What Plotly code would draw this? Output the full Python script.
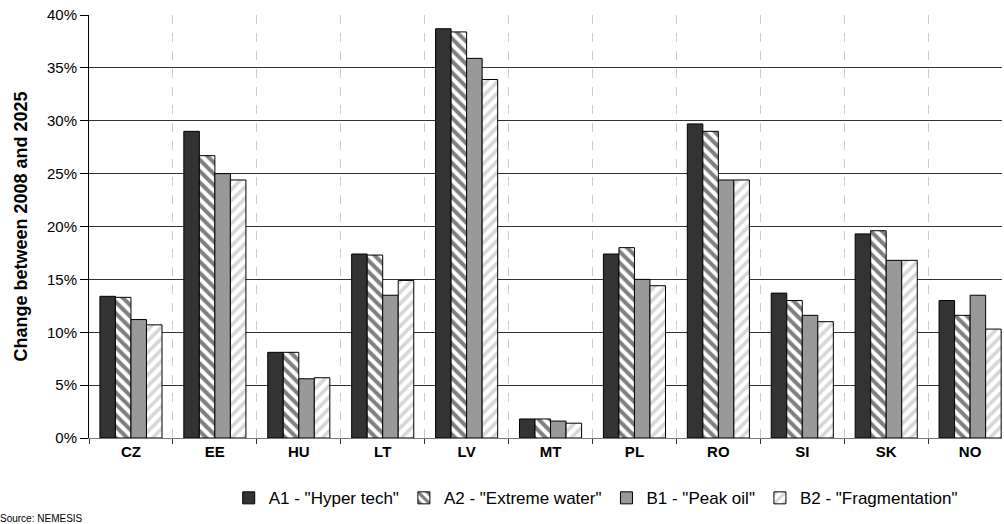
import plotly.graph_objects as go

categories = ["CZ", "EE", "HU", "LT", "LV", "MT", "PL", "RO", "SI", "SK", "NO"]
series_names = ['A1 - "Hyper tech"', 'A2 - "Extreme water"', 'B1 - "Peak oil"', 'B2 - "Fragmentation"']
a1 = [13.4, 29.0, 8.1, 17.4, 38.7, 1.8, 17.4, 29.7, 13.7, 19.3, 13.0]
a2 = [13.3, 26.7, 8.1, 17.3, 38.4, 1.8, 18.0, 29.0, 13.0, 19.6, 11.6]
b1 = [11.2, 25.0, 5.6, 13.5, 35.9, 1.6, 15.0, 24.4, 11.6, 16.8, 13.5]
b2 = [10.7, 24.4, 5.7, 14.9, 33.9, 1.4, 14.4, 24.4, 11.0, 16.8, 10.3]
y_ticks = [0, 5, 10, 15, 20, 25, 30, 35, 40]
y_tick_labels = [f"{v}%" for v in y_ticks]

FONT = "Liberation Sans, Arial, sans-serif"

styles = [
    dict(color="#333333", pattern=dict(shape="")),
    dict(color="white", pattern=dict(shape="\\", fgcolor="#000000", bgcolor="#ffffff", size=8, solidity=0.5)),
    dict(color="#999999", pattern=dict(shape="")),
    dict(color="white", pattern=dict(shape="/", fgcolor="#b0b0b0", bgcolor="#ffffff", size=8, solidity=0.45)),
]

fig = go.Figure()
for name, vals, st in zip(series_names, [a1, a2, b1, b2], styles):
    fig.add_trace(go.Bar(
        x=categories, y=vals, name=name,
        marker=dict(color=st["color"], pattern=st["pattern"],
                    line=dict(color="#000000", width=1)),
    ))

fig.update_layout(
    width=1004, height=524,
    margin=dict(l=89, r=2, t=15, b=86),
    paper_bgcolor="white", plot_bgcolor="white",
    barmode="group", bargap=0.26, bargroupgap=0,
    font=dict(family=FONT, size=15, color="#000000"),
    showlegend=True,
    legend=dict(orientation="h", x=0.555, xanchor="center", y=-0.1, yanchor="top",
                font=dict(size=17, family=FONT), traceorder="normal",
                itemwidth=30, tracegroupgap=0),
    xaxis=dict(
        range=[-0.5, 10.38],
        tickson="boundaries", ticks="outside", ticklen=5, tickcolor="#333333",
        showgrid=True, gridcolor="#cccccc", griddash="dash", gridwidth=1,
        showline=True, linecolor="#777777", linewidth=1,
        tickfont=dict(size=15, family=FONT, weight="bold"),
    ),
    yaxis=dict(
        range=[0, 40], tickvals=y_ticks, ticktext=y_tick_labels,
        ticks="outside", ticklen=8, tickcolor="#000000",
        showgrid=True, gridcolor="#333333", gridwidth=1,
        showline=True, linecolor="#000000", linewidth=1,
        zeroline=False,
        title=dict(text="Change between 2008 and 2025", font=dict(size=18, family=FONT, weight="bold"), standoff=14),
        tickfont=dict(size=15, family=FONT),
    ),
)

fig.add_annotation(text="Source: NEMESIS", xref="paper", yref="paper", x=-0.0997, y=-0.19,
                   xanchor="left", yanchor="middle", showarrow=False,
                   font=dict(size=10, family=FONT, color="#000000"))

fig.write_html("out.html", config={"displayModeBar": False},
               post_script="document.body.style.margin='0';")
